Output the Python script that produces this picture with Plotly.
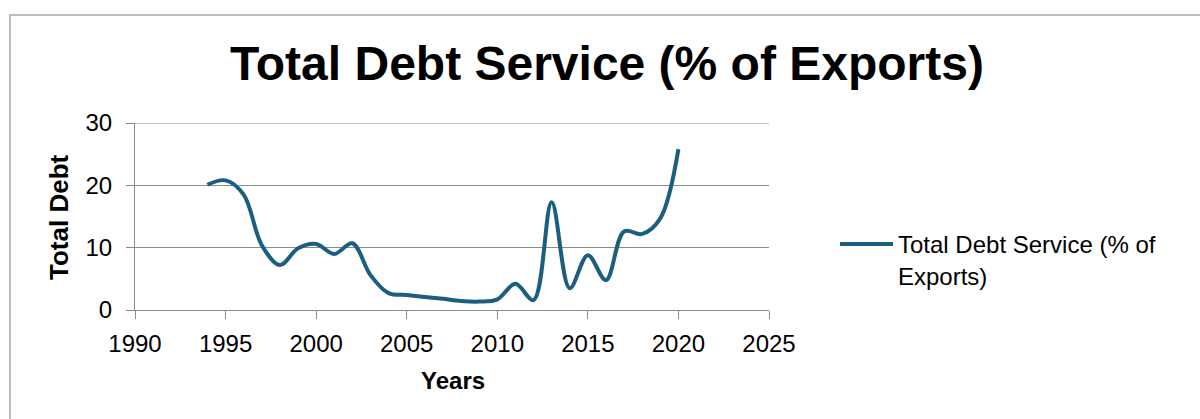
import plotly.graph_objects as go

years = list(range(1994, 2021))
debt_service = [20.1, 20.8, 18.5, 10.4, 7.2, 9.9, 10.6, 9.0, 10.7, 5.6, 2.7, 2.4,
                2.1, 1.8, 1.45, 1.35, 1.7, 4.2, 1.6, 17.3, 3.5, 8.8, 4.8, 12.6,
                12.2, 14.7, 25.8]
x_ticks = [1990, 1995, 2000, 2005, 2010, 2015, 2020, 2025]
y_ticks = [0, 10, 20, 30]

W, H = 1200, 419
L, R, T, B = 135, 431, 123, 109
pw, ph = W - L - R, H - T - B

def px(xp):
    return (xp - L) / pw

def py(yp):
    return (H - B - yp) / ph

FONT = "Liberation Sans, Arial, sans-serif"
LINE = "#1c5e80"
GRID = "#8a8a8a"

fig = go.Figure()
fig.add_trace(go.Scatter(
    x=years, y=debt_service, mode="lines",
    name="Total Debt Service (% of<br>Exports)",
    line=dict(color=LINE, width=4, shape="spline", smoothing=1),
))

fig.update_layout(
    width=W, height=H,
    margin=dict(l=L, r=R, t=T, b=B),
    paper_bgcolor="white", plot_bgcolor="white",
    font=dict(family=FONT, color="black", size=24),
    title=dict(text="<b>Total Debt Service (% of Exports)</b>",
               font=dict(size=48, family=FONT, color="black"),
               x=607 / W, xanchor="center", xref="container",
               y=1 - 63 / H, yanchor="middle", yref="container"),
    showlegend=True,
    legend=dict(x=px(835), xanchor="left", y=py(222), yanchor="top",
                font=dict(size=24, family=FONT, color="black"),
                valign="top", itemwidth=53, bgcolor="rgba(0,0,0,0)",
                tracegroupgap=0),
    xaxis=dict(range=[1990, 2025], tickvals=x_ticks, ticktext=[str(v) for v in x_ticks],
               showgrid=False, zeroline=False, showline=True, linecolor=GRID, linewidth=1,
               ticks="outside", ticklen=8, tickcolor=GRID, tickwidth=1,
               ticklabelstandoff=4,
               tickfont=dict(size=24, family=FONT, color="black")),
    yaxis=dict(range=[0, 30], tickvals=y_ticks,
               showgrid=True, gridcolor=GRID, gridwidth=1, zeroline=False,
               showline=True, linecolor=GRID, linewidth=1,
               ticks="outside", ticklen=8, tickcolor=GRID, tickwidth=1,
               ticklabelstandoff=9,
               tickfont=dict(size=24, family=FONT, color="black")),
    annotations=[
        dict(text="<b>Years</b>", xref="paper", yref="paper",
             x=px(453), y=py(380), xanchor="center", yanchor="middle",
             showarrow=False, font=dict(size=24, family=FONT, color="black")),
        dict(text="<b>Total Debt</b>", xref="paper", yref="paper",
             x=px(59), y=py(217), xanchor="center", yanchor="middle", textangle=-90,
             showarrow=False, font=dict(size=26, family=FONT, color="black")),
    ],
    shapes=[
        dict(type="rect", xref="paper", yref="paper",
             x0=px(10), x1=px(1215), y0=py(435), y1=py(15),
             line=dict(color="#a6a6a6", width=1.5), fillcolor="rgba(0,0,0,0)",
             layer="below"),
        dict(type="line", xref="paper", yref="y",
             x0=0, x1=1, y0=y_ticks[-1], y1=y_ticks[-1],
             line=dict(color=GRID, width=1), layer="below"),
    ],
)

fig.write_html("out.html")
